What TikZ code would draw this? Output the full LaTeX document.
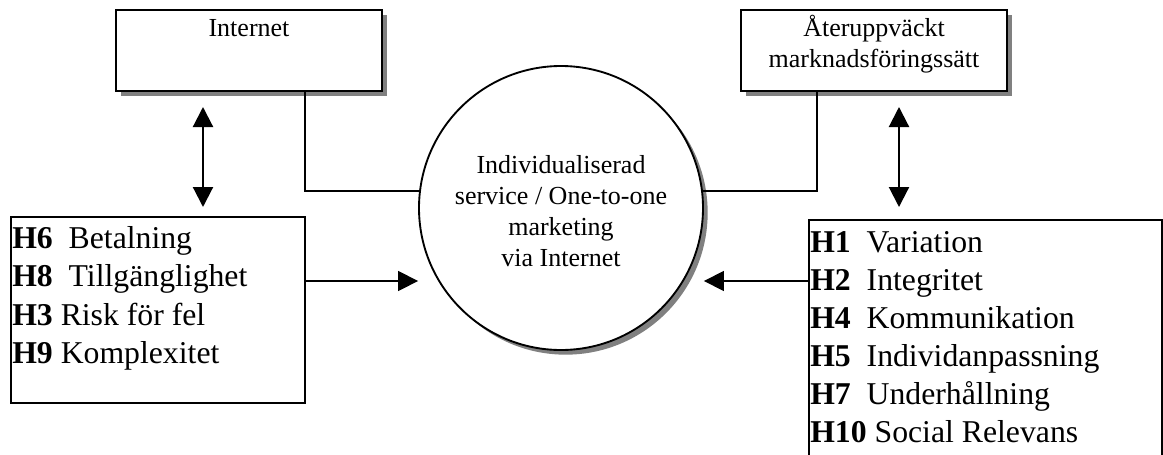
\documentclass[tikz,border=0pt]{standalone}
\usepackage{fontspec}
\setmainfont{Liberation Serif}
\usetikzlibrary{arrows.meta,shadows}

\begin{document}
\begin{tikzpicture}[x=0.75pt,y=-0.75pt,
  shadowbox/.style={draw=black,line width=1.4pt,fill=white,rectangle,inner sep=0pt,
    drop shadow={shadow xshift=3.75pt,shadow yshift=-3.75pt,fill=black!50,opacity=1}},
  listbox/.style={draw=black,line width=1.2pt,fill=white,rectangle,inner sep=0pt},
  hub/.style={draw=black,line width=1.4pt,fill=white,circle,inner sep=0pt,minimum size=213pt,
    drop shadow={shadow xshift=3.5pt,shadow yshift=-3.5pt,fill=black!50,opacity=1}},
  smalltxt/.style={inner sep=0pt,anchor=base,font=\fontsize{19.5pt}{23pt}\selectfont},
  listtxt/.style={inner sep=0pt,anchor=base west,font=\fontsize{23.8pt}{28pt}\selectfont},
  link/.style={line width=1.2pt},
  tip/.style={-{Triangle[length=15pt,width=15pt]},line width=1.2pt},
  twoway/.style={{Triangle[length=15pt,width=15pt]}-{Triangle[length=15pt,width=15pt]},line width=1.6pt}]

\useasboundingbox (0,0) rectangle (1163,454);
\clip (0,0) rectangle (1163,454);

% boxes and the central circle
\node[shadowbox,minimum width=199.5pt,minimum height=60.75pt] (inet) at (249,50.5) {};
\node[shadowbox,minimum width=199.5pt,minimum height=60.75pt] (rtop) at (874,50.5) {};
\node[listbox,minimum width=220.5pt,minimum height=139.5pt] (lbox) at (158,310) {};
\node[listbox,minimum width=264.75pt,minimum height=195pt,anchor=north west] (rbox) at (808,219) {};
\node[hub] (circ) at (561,208) {};

% texts
\node[smalltxt] (inettxt) at (249,36) {Internet};
\node[smalltxt] (rtopa) at (874,36) {Återuppväckt};
\node[smalltxt] (rtopb) at (874,67) {marknadsföringssätt};

\node[smalltxt] (ca) at (561,173) {Individualiserad};
\node[smalltxt] (cb) at (561,204) {service / One-to-one};
\node[smalltxt] (cc) at (561,235) {marketing};
\node[smalltxt] (cd) at (561,266) {via Internet};

\node[listtxt] (h6) at (12,248) {\textbf{H6}\ \ Betalning};
\node[listtxt] (h8) at (12,286.5) {\textbf{H8}\ \ Tillgänglighet};
\node[listtxt] (h3) at (12,325) {\textbf{H3} Risk för fel};
\node[listtxt] (h9) at (12,363) {\textbf{H9} Komplexitet};

\node[listtxt] (h1) at (810,252) {\textbf{H1}\ \ Variation};
\node[listtxt] (h2) at (810,290) {\textbf{H2}\ \ Integritet};
\node[listtxt] (h4) at (810,328) {\textbf{H4}\ \ Kommunikation};
\node[listtxt] (h5) at (810,366) {\textbf{H5}\ \ Individanpassning};
\node[listtxt] (h7) at (810,404) {\textbf{H7}\ \ Underhållning};
\node[listtxt] (h10) at (810,442) {\textbf{H10} Social Relevans};

% junction points and arrow ends
\coordinate (jl) at (305,191);
\coordinate (jr) at (817,191);
\coordinate (ya) at (0,281);
\coordinate (la) at (203,107);
\coordinate (lb) at (203,207);
\coordinate (ra) at (899,107);
\coordinate (rb) at (899,207);

% connectors
\draw[link] (inet.south -| jl) -- (jl) -- (circ.173 |- jl);
\draw[link] (rtop.south -| jr) -- (jr) -- (circ.7 |- jr);
\draw[tip] (lbox.east |- ya) -- (circ.west |- ya);
\draw[tip] (rbox.west |- ya) -- (circ.east |- ya);
\draw[twoway] (la) -- (lb);
\draw[twoway] (ra) -- (rb);
\end{tikzpicture}
\end{document}
